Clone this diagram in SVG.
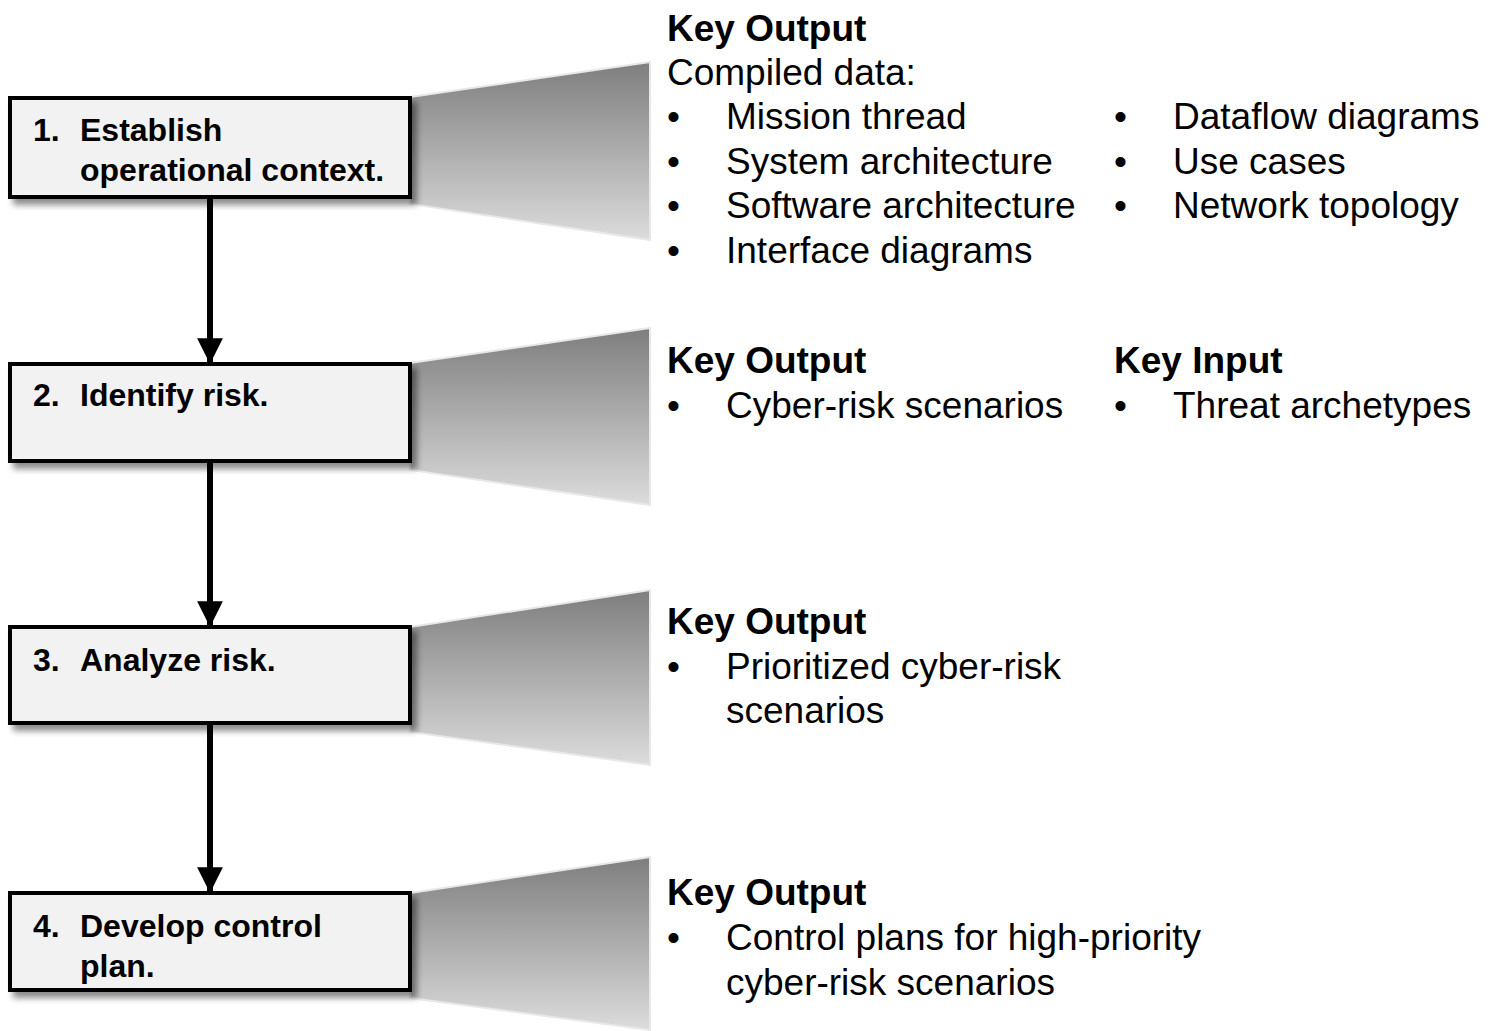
<svg xmlns="http://www.w3.org/2000/svg" width="1496" height="1031" viewBox="0 0 1496 1031">
<defs>
<linearGradient id="fun" x1="0" y1="0" x2="0" y2="1">
<stop offset="0" stop-color="#7e7e7e"/>
<stop offset="1" stop-color="#dcdcdc"/>
</linearGradient>
<filter id="sh" x="-10%" y="-10%" width="130%" height="140%">
<feGaussianBlur in="SourceAlpha" stdDeviation="3"/>
<feOffset dx="5" dy="6" result="b"/>
<feComponentTransfer><feFuncA type="linear" slope="0.45"/></feComponentTransfer>
<feMerge><feMergeNode/><feMergeNode in="SourceGraphic"/></feMerge>
</filter>
<marker id="ah" viewBox="0 0 10 10" refX="10" refY="5" markerWidth="4.3" markerHeight="4.3" markerUnits="strokeWidth" orient="auto">
<path d="M0,0 L10,5 L0,10 Z" fill="#000"/>
</marker>
</defs>
<style>
.fun{fill:url(#fun);stroke:#e8e8e8;stroke-width:2}
.box{fill:#f2f2f2;stroke:#000;stroke-width:4}
.bt{font-family:"Liberation Sans",Arial,sans-serif;font-weight:bold;font-size:32px;fill:#000}
.h{font-family:"Liberation Sans",Arial,sans-serif;font-weight:bold;font-size:37px;fill:#000}
.t{font-family:"Liberation Sans",Arial,sans-serif;font-size:37px;fill:#000}
.con{stroke:#000;stroke-width:6;fill:none}
</style>
<rect width="1496" height="1031" fill="#fff"/>
<g id="funnels">
<polygon class="fun" points="410,97 650,62 650,240 410,204"/>
<polygon class="fun" points="410,363 650,328 650,505 410,470"/>
<polygon class="fun" points="410,627 650,590 650,765 410,732"/>
<polygon class="fun" points="410,893 650,857 650,1030 410,998"/>
</g>
<g id="connectors">
<line class="con" x1="210" y1="199" x2="210" y2="364" marker-end="url(#ah)"/>
<line class="con" x1="210" y1="463" x2="210" y2="627" marker-end="url(#ah)"/>
<line class="con" x1="210" y1="725" x2="210" y2="893" marker-end="url(#ah)"/>
</g>
<g id="step1">
<rect class="box" x="10" y="98" width="400" height="99" filter="url(#sh)"/>
<text class="bt" x="33" y="141">1.</text>
<text class="bt" x="80" y="141">Establish</text>
<text class="bt" x="80" y="181">operational context.</text>
</g>
<g id="step2">
<rect class="box" x="10" y="364" width="400" height="97" filter="url(#sh)"/>
<text class="bt" x="33" y="406">2.</text>
<text class="bt" x="80" y="406">Identify risk.</text>
</g>
<g id="step3">
<rect class="box" x="10" y="627" width="400" height="96" filter="url(#sh)"/>
<text class="bt" x="33" y="671">3.</text>
<text class="bt" x="80" y="671">Analyze risk.</text>
</g>
<g id="step4">
<rect class="box" x="10" y="893" width="400" height="97" filter="url(#sh)"/>
<text class="bt" x="33" y="937">4.</text>
<text class="bt" x="80" y="937">Develop control</text>
<text class="bt" x="80" y="977">plan.</text>
</g>
<g id="out1">
<text class="h" x="667" y="41">Key Output</text>
<text class="t" x="667" y="85">Compiled data:</text>
<text class="t" x="667" y="129">•</text><text class="t" x="726" y="129">Mission thread</text>
<text class="t" x="667" y="174">•</text><text class="t" x="726" y="174">System architecture</text>
<text class="t" x="667" y="218">•</text><text class="t" x="726" y="218">Software architecture</text>
<text class="t" x="667" y="263">•</text><text class="t" x="726" y="263">Interface diagrams</text>
<text class="t" x="1114" y="129">•</text><text class="t" x="1173" y="129">Dataflow diagrams</text>
<text class="t" x="1114" y="174">•</text><text class="t" x="1173" y="174">Use cases</text>
<text class="t" x="1114" y="218">•</text><text class="t" x="1173" y="218">Network topology</text>
</g>
<g id="out2">
<text class="h" x="667" y="373">Key Output</text>
<text class="t" x="667" y="418">•</text><text class="t" x="726" y="418">Cyber-risk scenarios</text>
<text class="h" x="1114" y="373">Key Input</text>
<text class="t" x="1114" y="418">•</text><text class="t" x="1173" y="418">Threat archetypes</text>
</g>
<g id="out3">
<text class="h" x="667" y="634">Key Output</text>
<text class="t" x="667" y="679">•</text><text class="t" x="726" y="679">Prioritized cyber-risk</text>
<text class="t" x="726" y="723">scenarios</text>
</g>
<g id="out4">
<text class="h" x="667" y="905">Key Output</text>
<text class="t" x="667" y="950">•</text><text class="t" x="726" y="950">Control plans for high-priority</text>
<text class="t" x="726" y="995">cyber-risk scenarios</text>
</g>
</svg>
